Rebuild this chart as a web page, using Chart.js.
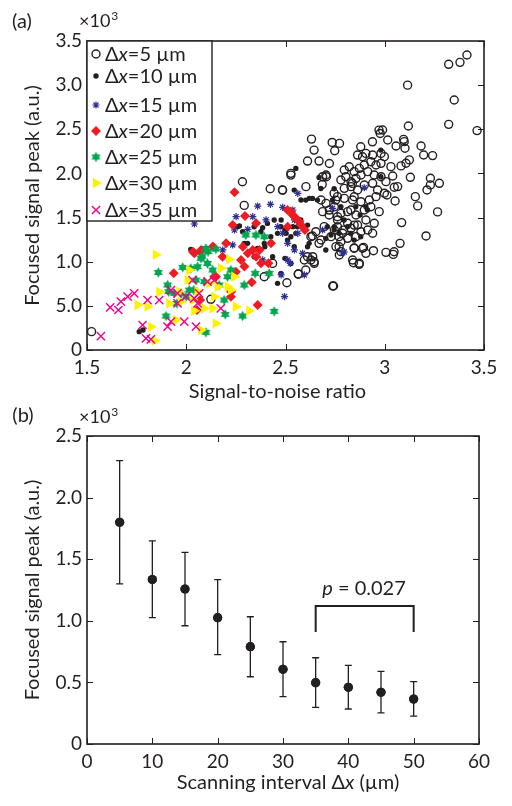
<!DOCTYPE html>
<html>
<head>
<meta charset="utf-8">
<script src="https://cdn.jsdelivr.net/npm/chart.js@4.4.1/dist/chart.umd.min.js"></script>
<style>
  html, body { margin: 0; padding: 0; background: #fff; }
  #wrap { position: relative; width: 512px; height: 806px; }
  canvas { position: absolute; left: 0; }
  #chartA { top: 0; }
  #chartB { top: 404px; }
</style>
</head>
<body>
<div id="wrap">
  <canvas id="chartA" width="512" height="404"></canvas>
  <canvas id="chartB" width="512" height="402"></canvas>
</div>
<script>
// ---- (a) scatter: SNR vs focused peak (x10^3 a.u.), one array per scanning interval ----
const intervalNames = ['5', '10', '15', '20', '25', '30', '35'];
const snrTickLabels = ['1.5', '2', '2.5', '3', '3.5'];
const peakTickLabelsA = ['0', '5.0', '1.0', '1.5', '2.0', '2.5', '3.0', '3.5'];

const dx5 = [
  [1.523,0.208],[2.124,0.574],[2.283,1.906],[2.292,1.638],[2.423,1.826],[2.485,1.811],[2.527,1.981],[2.611,2.14],
  [2.631,2.389],[2.644,2.264],[2.669,2.14],[2.721,2.113],[2.735,2.351],[2.772,2.34],[2.748,2.257],[2.706,1.962],
  [2.685,1.875],[2.745,1.774],[2.753,1.698],[2.721,1.585],[2.762,1.509],[2.762,1.396],[2.792,1.358],[2.77,1.283],
  [2.77,1.17],[2.837,1.887],[2.846,1.736],[2.829,1.585],[2.846,1.415],[2.846,1.155],[2.842,0.989],[2.871,0.97],
  [2.893,1.162],[2.879,2.302],[2.888,2.189],[2.938,2.358],[2.971,2.491],[2.977,2.453],[2.943,1.125],[2.742,0.725],
  [2.644,1.0],[2.628,1.019],[2.602,0.906],[2.564,0.86],[2.507,0.762],[2.435,0.981],[2.393,0.83],[2.611,1.057],
  [2.636,1.291],[2.669,1.208],
  [2.863,2.208],[2.905,2.227],[2.939,2.208],[2.981,2.227],[2.796,2.039],[2.821,2.076],[2.846,2.02],[2.872,2.057],
  [2.897,2.095],[2.93,2.133],[2.956,2.095],[2.981,2.114],[2.779,1.925],[2.804,1.963],[2.83,1.906],[2.855,1.944],
  [2.88,1.982],[2.914,2.02],[2.947,1.982],[2.981,1.963],[2.796,1.831],[2.83,1.85],[2.863,1.812],[2.897,1.869],
  [2.939,1.888],[2.964,1.812],[2.956,1.737],[2.762,1.737],[2.796,1.718],[2.838,1.699],[2.88,1.68],[2.922,1.699],
  [2.679,1.699],[2.704,1.661],[2.746,1.623],[2.779,1.548],[2.813,1.567],[2.855,1.529],[2.897,1.586],[2.93,1.623],
  [2.972,1.567],[2.687,1.567],[2.72,1.529],[2.762,1.472],[2.813,1.435],[2.863,1.416],[2.905,1.472],[2.947,1.435],
  [2.914,1.359],[2.939,1.322],[2.695,1.397],[2.746,1.359],[2.788,1.322],[2.83,1.378],[2.88,1.34],[2.628,1.284],
  [2.653,1.34],[2.679,1.246],[2.729,1.284],[2.779,1.227],[2.813,1.265],[2.855,1.284],[2.754,1.171],[2.779,1.114],
  [2.846,1.152],[2.888,1.152],[2.905,1.095],[2.637,1.057],[2.645,0.982],[2.595,1.02],[2.838,1.02],[2.872,0.982],
  [2.485,1.812],[2.527,2.001],[2.603,1.85],[2.687,1.963],[2.704,1.982],[2.738,0.725],[2.565,0.861],[2.771,1.076],
  [3.414,3.341],[3.379,3.258],[3.322,3.236],[3.115,3.0],[3.35,2.832],[3.465,2.485],[3.322,2.556],[3.119,2.537],
  [3.095,2.386],[3.098,2.36],[3.102,2.285],[3.057,2.311],[3.015,2.379],[3.183,2.311],[3.196,2.209],[3.241,2.202],
  [3.124,2.153],[3.107,2.115],[3.082,2.085],[3.031,2.077],[2.998,2.19],[2.989,2.492],[3.129,1.956],[3.23,1.945],
  [3.23,1.87],[3.213,1.813],[3.275,1.888],[3.04,1.971],[3.006,1.907],[3.065,1.851],[3.048,1.843],[2.998,1.775],
  [3.011,1.756],[3.052,1.688],[3.154,1.737],[3.166,1.632],[3.266,1.564],[3.085,1.443],[3.208,1.292],[3.047,1.113],
  [3.077,1.208],[3.006,1.106],[3.043,1.083]
];
const dx10 = [
  [1.763,0.208],[1.782,0.226],[2.023,1.14],[2.258,1.396],[2.284,1.34],[2.309,1.208],[2.342,1.396],[2.376,1.34],
  [2.393,1.208],[2.409,1.434],[2.443,1.472],[2.46,1.321],[2.477,1.396],[2.497,1.358],[2.51,1.245],[2.527,1.283],
  [2.544,1.17],[2.552,1.321],[2.56,1.396],[2.577,1.472],[2.611,1.415],[2.619,1.208],[2.611,1.17],[2.602,1.698],
  [2.636,1.717],[2.661,1.698],[2.544,1.811],[2.552,2.057],[2.669,1.955],[2.678,1.83],[2.711,1.396],[2.703,1.264],
  [2.703,1.132],[2.745,1.358],[2.77,1.321],[2.46,0.755],[2.477,0.868],[2.497,1.038],[2.527,0.981],[2.435,1.057],
  [2.396,1.17],[2.292,1.208],[2.309,1.094],[2.342,1.057],[2.359,1.151],[2.426,1.283],[2.829,1.321],[2.846,1.245],
  [2.879,1.283],[2.854,1.623],[2.913,1.585],[2.98,2.264],[2.98,1.962],[2.745,1.826],[2.779,1.623],[2.795,1.472],
  [2.812,1.396],[2.876,1.528],[2.268,1.405],[2.385,1.386],[2.478,1.473],[2.503,1.322],[2.537,1.397],[2.737,1.699],
  [2.746,1.397],[2.729,1.303],[2.578,1.699],[2.62,1.718],[2.905,1.623]
];
const dx15 = [
  [2.041,1.427],[2.36,1.63],[2.424,1.65],[2.486,1.616],[2.562,1.774],[2.335,1.51],[2.251,1.51],[2.243,1.359],
  [2.31,1.367],[2.402,1.473],[2.461,1.397],[2.486,1.322],[2.537,1.586],[2.511,1.208],[2.545,1.133],[2.511,1.02],
  [2.478,0.85],[2.495,0.605],[2.234,1.19],[2.184,1.133],[2.385,1.02],[2.562,1.322],[2.545,1.473],[2.737,1.605],
  [2.687,1.359],[2.897,1.838],[2.796,1.11],[2.586,1.095],[2.524,0.982],[2.595,0.85],[2.788,1.10]
];
const dx20 = [
  [2.243,1.786],[2.296,1.518],[2.234,1.416],[2.352,1.435],[2.201,1.208],[2.285,1.17],[2.31,1.095],[2.335,1.133],
  [2.352,1.057],[2.276,1.02],[2.293,0.945],[2.369,1.133],[2.377,0.982],[2.427,1.208],[2.414,0.982],[2.528,1.567],
  [2.553,1.491],[2.511,1.397],[2.57,1.454],[2.36,0.51],[2.226,0.661],[2.134,1.171],[2.075,1.133],[2.041,1.095],
  [2.15,0.831],[2.51,1.586],[2.536,1.529],[2.561,1.472],[2.578,1.416],[2.598,1.359],[2.034,1.114],[2.071,1.114],
  [1.937,0.868],[2.054,0.453],[2.183,1.057],[2.25,0.887],[2.33,0.766],[2.225,0.604],[2.07,0.566],[2.141,0.83]
];
const dx25 = [
  [1.859,0.879],[1.906,0.736],[1.982,0.936],[2.023,0.925],[2.057,0.943],[2.099,1.151],[2.149,1.143],[2.074,1.038],
  [2.107,0.981],[2.133,0.906],[2.015,0.679],[2.049,0.792],[2.091,0.774],[2.166,0.736],[2.191,0.566],[2.196,0.404],
  [2.284,0.385],[2.443,0.438],[2.292,0.736],[2.347,0.868],[2.418,0.868],[2.3,1.302],[1.898,0.385],[2.099,0.2],
  [1.94,0.642],[1.973,0.642],[2.208,0.83],[2.225,0.906],[2.393,1.283],[2.351,1.302],[1.911,0.661],[1.953,0.528],
  [2.0,0.604],[2.038,0.679],[2.08,1.057],[2.11,1.114]
];
const dx30 = [
  [1.847,1.079],[1.755,0.509],[1.805,0.491],[1.864,0.657],[1.914,0.528],[1.965,0.66],[1.973,0.547],[2.015,0.906],
  [2.04,0.445],[2.057,0.66],[2.091,0.472],[2.116,0.755],[2.133,0.472],[2.158,0.717],[2.175,0.925],[2.208,0.717],
  [2.225,0.679],[2.242,0.83],[2.25,0.491],[2.317,0.445],[2.149,0.302],[2.074,0.226],[1.822,0.264],[1.842,0.106],
  [1.948,0.34],[2.007,0.792],[2.032,0.566],[2.216,1.026],[2.141,0.604]
];
const dx35 = [
  [1.57,0.158],[1.617,0.483],[1.658,0.453],[1.671,0.547],[1.705,0.604],[1.738,0.642],[1.78,0.283],[1.797,0.132],
  [1.822,0.121],[1.805,0.566],[1.864,0.566],[1.906,0.264],[1.923,0.321],[1.923,0.679],[1.956,0.528],[1.99,0.321],
  [1.998,0.604],[2.032,0.792],[2.049,0.264],[2.057,0.528],[2.065,0.642],[2.174,0.472],[2.141,0.792],[2.107,0.774],
  [1.956,0.642],[2.04,0.585]
];

// ---- (b) mean +/- spread of focused peak vs scanning interval ----
const intervalUm = [5, 10, 15, 20, 25, 30, 35, 40, 45, 50];
const meanPeak = [1.80, 1.335, 1.258, 1.025, 0.79, 0.606, 0.498, 0.46, 0.42, 0.365];
const peakLow  = [1.30, 1.025, 0.96, 0.725, 0.546, 0.384, 0.298, 0.284, 0.252, 0.227];
const peakHigh = [2.30, 1.648, 1.556, 1.335, 1.033, 0.83, 0.70, 0.638, 0.59, 0.506];
const intervalTickLabels = ['0', '10', '20', '30', '40', '50', '60'];
const peakTickLabelsB = ['0', '0.5', '1.0', '1.5', '2.0', '2.5'];
const pBracket = { from: 35, to: 50, top: 1.12, foot: 0.91, text: '0.027', labelX: 42.4, labelY: 1.26 };

const INK = '#231f20';
const FONT = 'Lato, "DejaVu Sans", sans-serif';

function toPoints(arr) { return arr.map(p => ({ x: p[0], y: p[1] })); }

// MATLAB style hexagram marker (no built-in one in Chart.js)
function hexagram(color, r) {
  const c = document.createElement('canvas');
  const s = Math.ceil(r * 2 + 2);
  c.width = s; c.height = s;
  const g = c.getContext('2d');
  g.fillStyle = color;
  g.beginPath();
  for (let k = 0; k < 12; k++) {
    const ang = -Math.PI / 2 + k * Math.PI / 6;
    const rr = k % 2 === 0 ? r : r * 0.58;
    g.lineTo(s / 2 + rr * Math.cos(ang), s / 2 + rr * Math.sin(ang));
  }
  g.closePath();
  g.fill();
  return c;
}

// draws text pieces, some of them italic
function richText(ctx, parts, x, y, size, align) {
  const fontFor = p => (p.i ? 'italic ' : '') + size + 'px ' + FONT;
  let total = 0;
  parts.forEach(p => { ctx.font = fontFor(p); total += ctx.measureText(p.t).width; });
  let cx = align === 'center' ? x - total / 2 : x;
  ctx.textAlign = 'left';
  parts.forEach(p => {
    ctx.font = fontFor(p);
    ctx.fillText(p.t, cx, y);
    cx += ctx.measureText(p.t).width;
  });
}

function times10(ctx, x, y) {
  ctx.textAlign = 'left';
  ctx.textBaseline = 'alphabetic';
  ctx.font = '18px ' + FONT;
  ctx.fillText('\u00d710', x, y);
  const w = ctx.measureText('\u00d710').width;
  ctx.font = '12px ' + FONT;
  ctx.fillText('3', x + w + 1, y - 7);
}

// inward ticks on all four sides + box
const framePlugin = {
  id: 'frame',
  afterDraw(chart) {
    const { ctx, chartArea: a, scales: { x, y } } = chart;
    ctx.save();
    ctx.strokeStyle = INK;
    ctx.lineWidth = 1;
    ctx.beginPath();
    x.ticks.forEach(t => {
      const px = Math.round(x.getPixelForValue(t.value)) + 0.5;
      ctx.moveTo(px, a.bottom); ctx.lineTo(px, a.bottom - 6);
      ctx.moveTo(px, a.top); ctx.lineTo(px, a.top + 6);
    });
    y.ticks.forEach(t => {
      const py = Math.round(y.getPixelForValue(t.value)) + 0.5;
      ctx.moveTo(a.left, py); ctx.lineTo(a.left + 6, py);
      ctx.moveTo(a.right, py); ctx.lineTo(a.right - 6, py);
    });
    ctx.stroke();
    ctx.lineWidth = 1.6;
    ctx.strokeRect(a.left, a.top, a.right - a.left, a.bottom - a.top);
    ctx.restore();
  }
};

const labelsA = {
  id: 'labelsA',
  afterDraw(chart) {
    const { ctx, chartArea: a } = chart;
    ctx.save();
    ctx.fillStyle = INK;
    ctx.textBaseline = 'middle';
    ctx.textAlign = 'center';
    ctx.font = '20px ' + FONT;
    ctx.fillText('(a)', 22, 22);
    times10(ctx, 79, 27);
    ctx.textBaseline = 'middle';
    ctx.textAlign = 'center';
    ctx.font = '20px ' + FONT;
    ctx.fillText('Signal-to-noise ratio', (a.left + a.right) / 2 - 8, a.bottom + 42);
    ctx.save();
    ctx.translate(33, (a.top + a.bottom) / 2);
    ctx.rotate(-Math.PI / 2);
    ctx.fillText('Focused signal peak (a.u.)', 0, 0);
    ctx.restore();

    // legend box
    const lx = a.left, ly = a.top, lw = 125, lh = 180;
    ctx.fillStyle = '#fff';
    ctx.fillRect(lx, ly, lw, lh);
    ctx.strokeStyle = INK;
    ctx.lineWidth = 1.4;
    ctx.strokeRect(lx, ly, lw, lh);
    const rows = [13, 35, 64, 90, 116, 142, 169];
    chart.data.datasets.forEach((ds, i) => {
      const my = ly + rows[i];
      ctx.save();
      ctx.fillStyle = ds.pointBackgroundColor;
      ctx.strokeStyle = ds.pointBorderColor;
      ctx.lineWidth = ds.pointBorderWidth;
      Chart.helpers.drawPoint(ctx, {
        pointStyle: ds.pointStyle, radius: ds.pointRadius,
        rotation: ds.pointRotation || 0, borderWidth: ds.pointBorderWidth
      }, lx + 9, my);
      ctx.restore();
      ctx.fillStyle = INK;
      ctx.textBaseline = 'middle';
      richText(ctx, [{ t: '\u0394' }, { t: 'x', i: true }, { t: '=' + intervalNames[i] + ' \u00b5m' }], lx + 18, my + 1, 20, 'left');
    });
    ctx.restore();
  }
};

const labelsB = {
  id: 'labelsB',
  afterDraw(chart) {
    const { ctx, chartArea: a } = chart;
    ctx.save();
    ctx.fillStyle = INK;
    ctx.textBaseline = 'middle';
    ctx.textAlign = 'center';
    ctx.font = '20px ' + FONT;
    ctx.fillText('(b)', 23, 12);
    times10(ctx, 79, 19);
    ctx.textBaseline = 'middle';
    ctx.fillStyle = INK;
    richText(ctx, [{ t: 'Scanning interval \u0394' }, { t: 'x', i: true }, { t: ' (\u00b5m)' }], (a.left + a.right) / 2 + 5, a.bottom + 39, 20, 'center');
    ctx.textAlign = 'center';
    ctx.font = '20px ' + FONT;
    ctx.save();
    ctx.translate(33, (a.top + a.bottom) / 2);
    ctx.rotate(-Math.PI / 2);
    ctx.fillText('Focused signal peak (a.u.)', 0, 0);
    ctx.restore();
    ctx.restore();
  },
  afterDatasetsDraw(chart) {
    const { ctx, scales: { x, y } } = chart;
    ctx.save();
    ctx.strokeStyle = INK;
    ctx.lineWidth = 1.3;
    ctx.beginPath();
    intervalUm.forEach((v, i) => {
      const px = x.getPixelForValue(v);
      const lo = y.getPixelForValue(peakLow[i]);
      const hi = y.getPixelForValue(peakHigh[i]);
      ctx.moveTo(px, lo); ctx.lineTo(px, hi);
      ctx.moveTo(px - 3.5, lo); ctx.lineTo(px + 3.5, lo);
      ctx.moveTo(px - 3.5, hi); ctx.lineTo(px + 3.5, hi);
    });
    ctx.stroke();
    // significance bracket
    const b0 = x.getPixelForValue(pBracket.from), b1 = x.getPixelForValue(pBracket.to);
    const bt = y.getPixelForValue(pBracket.top), bf = y.getPixelForValue(pBracket.foot);
    ctx.lineWidth = 2;
    ctx.beginPath();
    ctx.moveTo(b0, bf); ctx.lineTo(b0, bt); ctx.lineTo(b1, bt); ctx.lineTo(b1, bf);
    ctx.stroke();
    ctx.fillStyle = INK;
    ctx.textBaseline = 'middle';
    richText(ctx, [{ t: 'p', i: true }, { t: ' = ' + pBracket.text }],
      x.getPixelForValue(pBracket.labelX), y.getPixelForValue(pBracket.labelY), 20, 'center');
    ctx.restore();
    // redraw mean dots over the bars
    chart.getDatasetMeta(0).data.forEach(pt => pt.draw(ctx, chart.chartArea));
  }
};

function axisTicks(labels, extra) {
  return Object.assign({
    color: INK, padding: 6, autoSkip: false, maxRotation: 0,
    font: { family: FONT, size: 19 },
    callback: (v, i) => labels[i]
  }, extra);
}

const dsStyle = [
  { data: dx5,  pointStyle: 'circle',   pointRadius: 4,   pointBorderWidth: 1.4, pointBackgroundColor: 'rgba(0,0,0,0)', pointBorderColor: INK },
  { data: dx10, pointStyle: 'circle',   pointRadius: 2.7, pointBorderWidth: 0,   pointBackgroundColor: INK, pointBorderColor: INK },
  { data: dx15, pointStyle: 'star',     pointRadius: 3.6, pointBorderWidth: 1.2, pointBackgroundColor: '#2e3192', pointBorderColor: '#2e3192' },
  { data: dx20, pointStyle: 'rectRot',  pointRadius: 5,   pointBorderWidth: 0,   pointBackgroundColor: '#ed1c24', pointBorderColor: '#ed1c24' },
  { data: dx25, pointStyle: hexagram('#00a651', 5.2), pointRadius: 5, pointBorderWidth: 0, pointBackgroundColor: '#00a651', pointBorderColor: '#00a651' },
  { data: dx30, pointStyle: 'triangle', pointRadius: 6,   pointBorderWidth: 0,   pointRotation: 90, pointBackgroundColor: '#fff200', pointBorderColor: '#fff200' },
  { data: dx35, pointStyle: 'crossRot', pointRadius: 5.8, pointBorderWidth: 1.4, pointBackgroundColor: '#ec008c', pointBorderColor: '#ec008c' }
];

new Chart(document.getElementById('chartA'), {
  type: 'scatter',
  data: {
    datasets: dsStyle.map((s, i) => Object.assign({}, s, {
      label: '\u0394x=' + intervalNames[i] + ' \u00b5m',
      data: toPoints(s.data),
      order: dsStyle.length - i,
      pointHoverRadius: s.pointRadius
    }))
  },
  options: {
    responsive: false,
    animation: false,
    events: [],
    layout: { padding: { top: 41, right: 28, left: 0, bottom: 0 } },
    plugins: { legend: { display: false }, tooltip: { enabled: false } },
    scales: {
      x: {
        type: 'linear', min: 1.5, max: 3.5,
        ticks: axisTicks(snrTickLabels, { stepSize: 0.5 }),
        grid: { display: false, drawTicks: false },
        border: { display: false },
        afterFit: s => { s.height = 54; }
      },
      y: {
        type: 'linear', min: 0, max: 3.5,
        ticks: axisTicks(peakTickLabelsA, { stepSize: 0.5, padding: 5 }),
        grid: { display: false, drawTicks: false },
        border: { display: false },
        afterFit: s => { s.width = 87; }
      }
    }
  },
  plugins: [framePlugin, labelsA]
});

new Chart(document.getElementById('chartB'), {
  type: 'scatter',
  data: {
    datasets: [{
      label: 'mean',
      data: intervalUm.map((v, i) => ({ x: v, y: meanPeak[i] })),
      pointStyle: 'circle', pointRadius: 4.6, pointHoverRadius: 4.6,
      pointBackgroundColor: INK, pointBorderColor: INK, pointBorderWidth: 0
    }]
  },
  options: {
    responsive: false,
    animation: false,
    events: [],
    layout: { padding: { top: 32, right: 33, left: 0, bottom: 0 } },
    plugins: { legend: { display: false }, tooltip: { enabled: false } },
    scales: {
      x: {
        type: 'linear', min: 0, max: 60,
        ticks: axisTicks(intervalTickLabels, { stepSize: 10 }),
        grid: { display: false, drawTicks: false },
        border: { display: false },
        afterFit: s => { s.height = 62; }
      },
      y: {
        type: 'linear', min: 0, max: 2.5,
        ticks: axisTicks(peakTickLabelsB, { stepSize: 0.5, padding: 5 }),
        grid: { display: false, drawTicks: false },
        border: { display: false },
        afterFit: s => { s.width = 87; }
      }
    }
  },
  plugins: [framePlugin, labelsB]
});
</script>
</body>
</html>
